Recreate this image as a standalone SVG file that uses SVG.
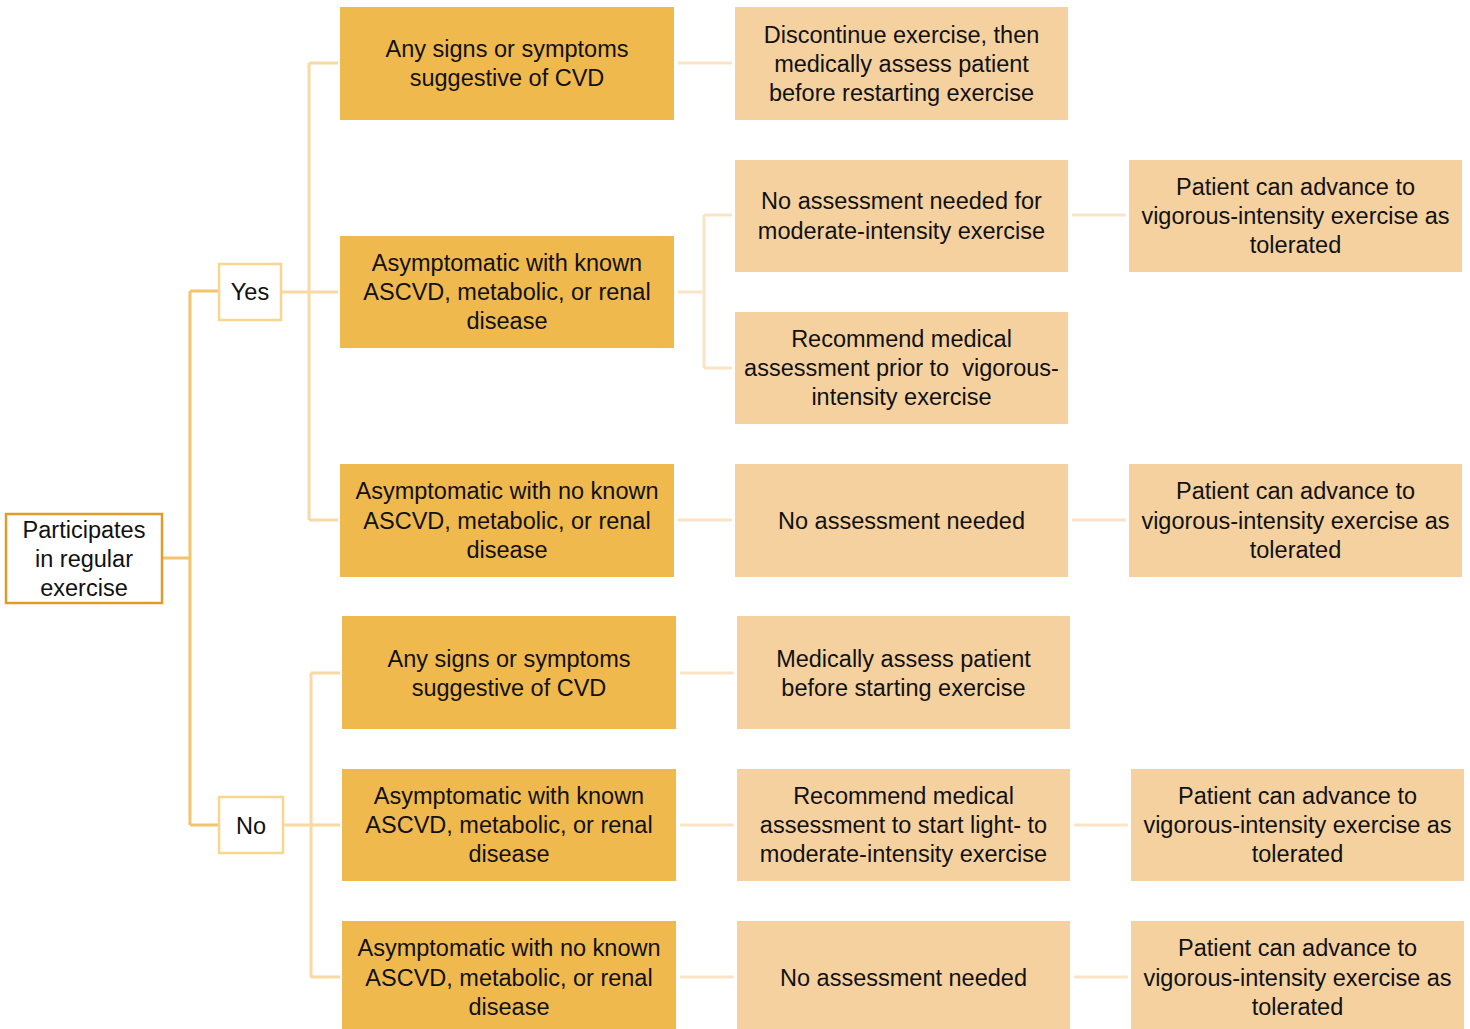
<svg xmlns="http://www.w3.org/2000/svg" width="1470" height="1029" viewBox="0 0 1470 1029">
  <style>
    .t { font-family: "Liberation Sans", Arial, sans-serif; font-size: 23.5px; fill: #111; text-anchor: middle; }
    .root { fill: #fff; stroke: #E09C28; stroke-width: 2.5; }
    .ans { fill: #fff; stroke: #F8D68F; stroke-width: 2.5; }
    .cat { fill: #F0B94E; }
    .act { fill: #F5D1A0; }
    .c1 { fill: none; stroke: #F4C46C; stroke-width: 3; }
    .c2 { fill: none; stroke: #F8D9A4; stroke-width: 3; }
    .c3 { fill: none; stroke: #FBE4C6; stroke-width: 3; }
  </style>
  <rect width="1470" height="1029" fill="#fff"/>

  <!-- connectors -->
  <g id="connectors">
    <path class="c1" d="M162,558 H190 M190,291 V825 M190,291 H219 M190,825 H219"/>
    <path class="c2" d="M281,292 H338 M309,63 V520 M309,63 H338 M309,520 H338"/>
    <path class="c2" d="M283,825 H340 M311,673 V977 M311,673 H340 M311,977 H340"/>
    <path class="c3" d="M678,63 H732 M678,292 H704 M704,215 V368 M704,215 H732 M704,368 H732 M678,520 H732"/>
    <path class="c3" d="M680,673 H734 M680,825 H734 M680,977 H734"/>
    <path class="c3" d="M1072,215 H1126 M1072,520 H1126 M1074,825 H1128 M1074,977 H1128"/>
  </g>

  <!-- root -->
  <g id="n-root">
    <rect class="root" x="6" y="514" width="156" height="89"/>
    <text class="t" x="84" y="537.5">Participates</text>
    <text class="t" x="84" y="566.5">in regular</text>
    <text class="t" x="84" y="595.5">exercise</text>
  </g>

  <!-- yes / no -->
  <g id="n-yes">
    <rect class="ans" x="219" y="264" width="62" height="56"/>
    <text class="t" x="250" y="300">Yes</text>
  </g>
  <g id="n-no">
    <rect class="ans" x="219" y="797" width="64" height="56"/>
    <text class="t" x="251" y="833.5">No</text>
  </g>

  <!-- yes branch: categories -->
  <g id="n-yes-cvd">
    <rect class="cat" x="340" y="7" width="334" height="113"/>
    <text class="t" x="507" y="57">Any signs or symptoms</text>
    <text class="t" x="507" y="86">suggestive of CVD</text>
  </g>
  <g id="n-yes-known">
    <rect class="cat" x="340" y="236" width="334" height="112"/>
    <text class="t" x="507" y="270.5">Asymptomatic with known</text>
    <text class="t" x="507" y="300">ASCVD, metabolic, or renal</text>
    <text class="t" x="507" y="329">disease</text>
  </g>
  <g id="n-yes-none">
    <rect class="cat" x="340" y="464" width="334" height="113"/>
    <text class="t" x="507" y="499">Asymptomatic with no known</text>
    <text class="t" x="507" y="528.5">ASCVD, metabolic, or renal</text>
    <text class="t" x="507" y="557.5">disease</text>
  </g>

  <!-- yes branch: actions -->
  <g id="n-yes-cvd-act">
    <rect class="act" x="735" y="7" width="333" height="113"/>
    <text class="t" x="901.5" y="42.5">Discontinue exercise, then</text>
    <text class="t" x="901.5" y="71.5">medically assess patient</text>
    <text class="t" x="901.5" y="100.5">before restarting exercise</text>
  </g>
  <g id="n-yes-known-mod">
    <rect class="act" x="735" y="160" width="333" height="112"/>
    <text class="t" x="901.5" y="209">No assessment needed for</text>
    <text class="t" x="901.5" y="238.5">moderate-intensity exercise</text>
  </g>
  <g id="n-yes-known-vig">
    <rect class="act" x="735" y="312" width="333" height="112"/>
    <text class="t" x="901.5" y="346.5">Recommend medical</text>
    <text class="t" x="901.5" y="376" xml:space="preserve">assessment prior to  vigorous-</text>
    <text class="t" x="901.5" y="405">intensity exercise</text>
  </g>
  <g id="n-yes-none-act">
    <rect class="act" x="735" y="464" width="333" height="113"/>
    <text class="t" x="901.5" y="528.5">No assessment needed</text>
  </g>
  <g id="n-yes-known-adv">
    <rect class="act" x="1129" y="160" width="333" height="112"/>
    <text class="t" x="1295.5" y="194.5">Patient can advance to</text>
    <text class="t" x="1295.5" y="223.5">vigorous-intensity exercise as</text>
    <text class="t" x="1295.5" y="253">tolerated</text>
  </g>
  <g id="n-yes-none-adv">
    <rect class="act" x="1129" y="464" width="333" height="113"/>
    <text class="t" x="1295.5" y="499">Patient can advance to</text>
    <text class="t" x="1295.5" y="528.5">vigorous-intensity exercise as</text>
    <text class="t" x="1295.5" y="557.5">tolerated</text>
  </g>

  <!-- no branch: categories -->
  <g id="n-no-cvd">
    <rect class="cat" x="342" y="616" width="334" height="113"/>
    <text class="t" x="509" y="666.5">Any signs or symptoms</text>
    <text class="t" x="509" y="695.5">suggestive of CVD</text>
  </g>
  <g id="n-no-known">
    <rect class="cat" x="342" y="769" width="334" height="112"/>
    <text class="t" x="509" y="803.5">Asymptomatic with known</text>
    <text class="t" x="509" y="833">ASCVD, metabolic, or renal</text>
    <text class="t" x="509" y="862">disease</text>
  </g>
  <g id="n-no-none">
    <rect class="cat" x="342" y="921" width="334" height="113"/>
    <text class="t" x="509" y="956">Asymptomatic with no known</text>
    <text class="t" x="509" y="985.5">ASCVD, metabolic, or renal</text>
    <text class="t" x="509" y="1014.5">disease</text>
  </g>

  <!-- no branch: actions -->
  <g id="n-no-cvd-act">
    <rect class="act" x="737" y="616" width="333" height="113"/>
    <text class="t" x="903.5" y="666.5">Medically assess patient</text>
    <text class="t" x="903.5" y="695.5">before starting exercise</text>
  </g>
  <g id="n-no-known-act">
    <rect class="act" x="737" y="769" width="333" height="112"/>
    <text class="t" x="903.5" y="803.5">Recommend medical</text>
    <text class="t" x="903.5" y="833">assessment to start light- to</text>
    <text class="t" x="903.5" y="862">moderate-intensity exercise</text>
  </g>
  <g id="n-no-none-act">
    <rect class="act" x="737" y="921" width="333" height="113"/>
    <text class="t" x="903.5" y="985.5">No assessment needed</text>
  </g>
  <g id="n-no-known-adv">
    <rect class="act" x="1131" y="769" width="333" height="112"/>
    <text class="t" x="1297.5" y="803.5">Patient can advance to</text>
    <text class="t" x="1297.5" y="833">vigorous-intensity exercise as</text>
    <text class="t" x="1297.5" y="862">tolerated</text>
  </g>
  <g id="n-no-none-adv">
    <rect class="act" x="1131" y="921" width="333" height="113"/>
    <text class="t" x="1297.5" y="956">Patient can advance to</text>
    <text class="t" x="1297.5" y="985.5">vigorous-intensity exercise as</text>
    <text class="t" x="1297.5" y="1014.5">tolerated</text>
  </g>
</svg>
